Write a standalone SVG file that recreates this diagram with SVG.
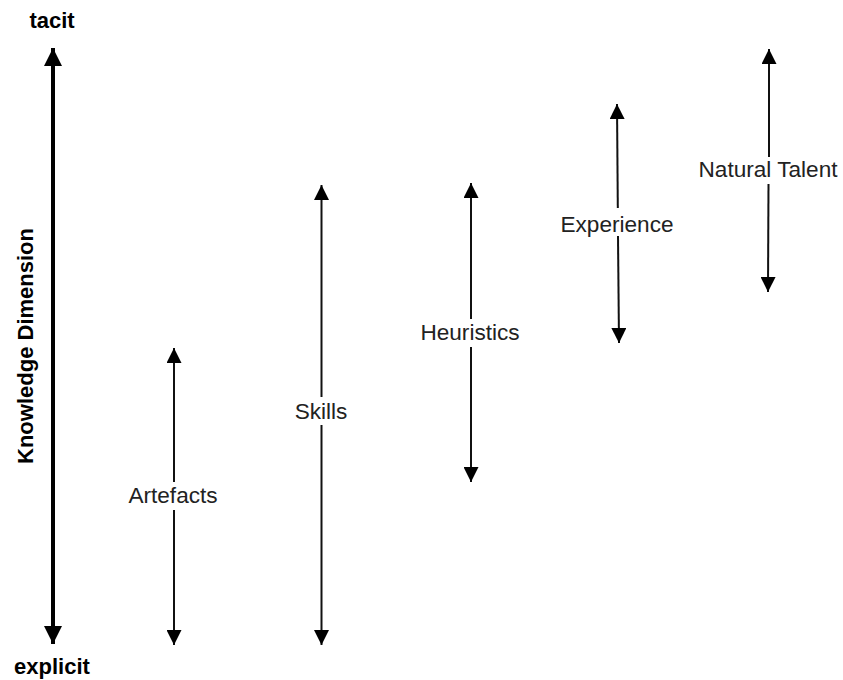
<svg xmlns="http://www.w3.org/2000/svg" width="843" height="680" viewBox="0 0 843 680">
  <style>
    .axis-label { font-family: "Liberation Sans", Arial, sans-serif; font-weight: bold; font-size: 22px; fill: #000; text-anchor: middle; }
    .label { font-family: "Liberation Sans", Arial, sans-serif; font-size: 22.6px; fill: #222; text-anchor: middle; }
    .axis { stroke: #000; stroke-width: 4; fill: none; }
    .range { stroke: #111; stroke-width: 2; fill: none; }
    .head-up { marker-start: url(#head); }
    .head-down { marker-end: url(#head); }
  </style>
  <defs>
    <marker id="head" viewBox="0 0 15 15" refX="15" refY="7.5" markerWidth="15" markerHeight="15" markerUnits="userSpaceOnUse" orient="auto-start-reverse">
      <path d="M0,0 L15,7.5 L0,15 Z" fill="#000"/>
    </marker>
    <marker id="bighead" viewBox="0 0 18 18" refX="18" refY="9" markerWidth="18" markerHeight="18" markerUnits="userSpaceOnUse" orient="auto-start-reverse">
      <path d="M0,0 L18,9 L0,18 Z" fill="#000"/>
    </marker>
  </defs>

  <rect x="0" y="0" width="843" height="680" fill="#fff"/>

  <!-- Knowledge dimension axis labels -->
  <g id="axis">
    <text class="axis-label" x="52" y="28">tacit</text>
    <text class="axis-label" x="52" y="674">explicit</text>
    <text class="axis-label" transform="translate(33,346) rotate(-90)" x="0" y="0">Knowledge Dimension</text>
  </g>

  <g id="connectors">
    <line class="axis" x1="53" y1="48" x2="53" y2="644" marker-start="url(#bighead)" marker-end="url(#bighead)"/>

    <!-- Artefacts -->
    <line class="range head-up" x1="174" y1="348" x2="174" y2="482"/>
    <line class="range head-down" x1="174" y1="510" x2="174" y2="645"/>
    <!-- Skills -->
    <line class="range head-up" x1="321.5" y1="185" x2="321.5" y2="397"/>
    <line class="range head-down" x1="321.5" y1="425" x2="321.5" y2="645"/>
    <!-- Heuristics -->
    <line class="range head-up" x1="471" y1="183" x2="471" y2="319"/>
    <line class="range head-down" x1="471" y1="347" x2="471" y2="482"/>
    <!-- Experience -->
    <line class="range head-up" x1="617" y1="104" x2="617.8" y2="208"/>
    <line class="range head-down" x1="618" y1="236" x2="619" y2="343"/>
    <!-- Natural Talent -->
    <line class="range head-up" x1="769" y1="49" x2="769" y2="157"/>
    <line class="range head-down" x1="768.5" y1="184" x2="768" y2="292"/>
  </g>

  <g id="artefacts"><text class="label" x="173" y="503">Artefacts</text></g>
  <g id="skills"><text class="label" x="321" y="419">Skills</text></g>
  <g id="heuristics"><text class="label" x="470" y="340">Heuristics</text></g>
  <g id="experience"><text class="label" x="617" y="232">Experience</text></g>
  <g id="natural-talent"><text class="label" x="768" y="177">Natural Talent</text></g>
</svg>
